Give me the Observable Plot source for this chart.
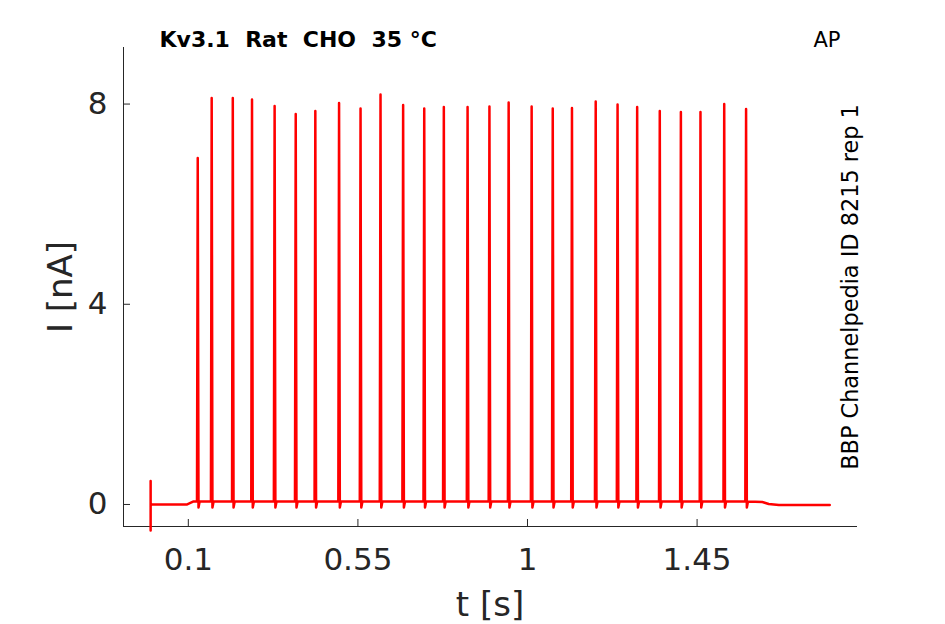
<!DOCTYPE html>
<html><head><meta charset="utf-8">
<script src="https://cdn.jsdelivr.net/npm/d3@7"></script>
<script src="https://cdn.jsdelivr.net/npm/@observablehq/plot@0.6"></script>
<style>
body{margin:0;background:#fff;}
svg text{white-space:pre;}
</style></head><body><div id="chart"></div>
<script>
// Data
const spikeTimes = [0.125,0.162,0.218,0.269,0.329,0.385,0.437,0.500,0.557,0.610,0.670,0.726,0.778,0.841,0.899,0.950,1.011,1.067,1.118,1.181,1.239,1.291,1.351,1.407,1.459,1.522,1.580];
const spikePeaks = [6.92,8.12,8.12,8.09,7.96,7.80,7.86,8.02,7.91,8.19,7.98,7.91,7.94,7.94,7.95,8.03,7.95,7.91,7.92,8.05,7.99,7.94,7.86,7.84,7.84,8.00,7.90];
const spikeBase = 0.06;
const spikeDip = -0.06;
const baseT = [0, 0.097, 0.114, 1.623, 1.640, 1.667, 1.802];
const baseI = [0, 0, 0.06, 0.05, 0.01, -0.01, -0.01];
const artifactT = [0, 0, 0];
const artifactI = [0.47, -0.52, 0];
const xTicks = [0.1, 0.55, 1, 1.45];
const xTickLabels = ["0.1", "0.55", "1", "1.45"];
const yTicks = [0, 4, 8];
const yTickLabels = ["0", "4", "8"];
const titleText = "Kv3.1  Rat  CHO  35 °C";
const cornerText = "AP";
const sideText = "BBP Channelpedia ID 8215 rep 1";
const xLabel = "t [s]";
const yLabel = "I [nA]";

// Build the trace table
const rows = [];
baseT.forEach((t, k) => rows.push({t, i: baseI[k]}));
artifactT.forEach((t, k) => rows.push({t, i: artifactI[k]}));
spikeTimes.forEach((ts, k) => {
  rows.push({t: ts - 0.002, i: spikeBase});
  rows.push({t: ts, i: spikePeaks[k]});
  rows.push({t: ts + 0.002, i: spikeDip});
  rows.push({t: ts + 0.005, i: spikeBase});
});
const trace = d3.sort(rows, d => d.t);

const ink = "#262626";
const chart = Plot.plot({
  width: 945, height: 624,
  marginLeft: 123, marginRight: 89, marginTop: 47, marginBottom: 98,
  style: {fontFamily: "DejaVu Sans", background: "#fff", overflow: "visible"},
  x: {domain: [-0.072, 1.873]},
  y: {domain: [-0.44, 9.13]},
  marks: [
    Plot.frame({anchor: "left", stroke: ink}),
    Plot.frame({anchor: "bottom", stroke: ink}),
    Plot.axisX(xTicks, {anchor: "bottom", tickSize: -7, tickPadding: 28, fontSize: 31, color: ink, label: null,
      tickFormat: d => xTickLabels[xTicks.indexOf(d)]}),
    Plot.axisY(yTicks, {anchor: "left", tickSize: -7, tickPadding: 23, fontSize: 31, color: ink, label: null,
      tickFormat: d => yTickLabels[yTicks.indexOf(d)]}),
    Plot.line(trace, {x: "t", y: "i", stroke: "#ff0000", strokeWidth: 2.5}),
    Plot.text([titleText], {text: d => d, frameAnchor: "top-left", textAnchor: "start", lineAnchor: "bottom",
      dx: 36, dy: -1, fontSize: 22, fontWeight: "bold", fill: "black"}),
    Plot.text([cornerText], {text: d => d, frameAnchor: "top-right", textAnchor: "end", lineAnchor: "bottom",
      dx: -16, dy: -1, fontSize: 21, fill: "black"}),
    Plot.text([sideText], {text: d => d, frameAnchor: "right", textAnchor: "middle", lineAnchor: "bottom",
      rotate: -90, dx: 1, fontSize: 22.4, fill: "black"}),
    Plot.text([yLabel], {text: d => d, frameAnchor: "left", textAnchor: "middle", lineAnchor: "bottom",
      rotate: -90, dx: -52, fontSize: 34, fill: ink}),
    Plot.text([xLabel], {text: d => d, frameAnchor: "bottom", textAnchor: "middle", lineAnchor: "bottom",
      dy: 89, fontSize: 34, fill: ink})
  ]
});
document.getElementById("chart").append(chart);
</script></body></html>
